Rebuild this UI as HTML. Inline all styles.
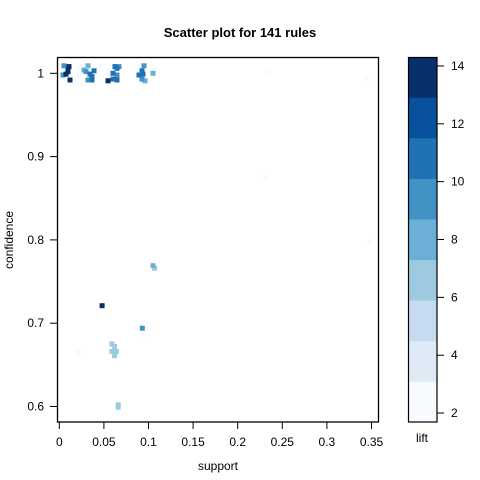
<!DOCTYPE html>
<html><head><meta charset="utf-8"><style>
html,body{margin:0;padding:0;background:#fff;}
svg{display:block;font-family:"Liberation Sans",Arial,sans-serif;}
</style></head><body>
<svg id="chart" width="480" height="480" xmlns="http://www.w3.org/2000/svg">
<text x="240" y="37" text-anchor="middle" font-size="13" font-weight="bold">Scatter plot for 141 rules</text>
<text x="218" y="470" text-anchor="middle" font-size="12">support</text>
<text x="13" y="240" text-anchor="middle" font-size="12" transform="rotate(-90 13 240)">confidence</text>
<g id="marks"></g>
<rect x="57.5" y="57.5" width="321" height="364.5" fill="none" stroke="#000" stroke-width="1.3"/>
<g id="xaxis"></g>
<g id="yaxis"></g>
<g id="legend"></g>
<text x="422" y="442" text-anchor="middle" font-size="12">lift</text>
</svg>
<script>
const xTicks=[0,0.05,0.1,0.15,0.2,0.25,0.3,0.35];
const xTickLabels=["0","0.05","0.1","0.15","0.2","0.25","0.3","0.35"];
const yTicks=[0.6,0.7,0.8,0.9,1];
const yTickLabels=["0.6","0.7","0.8","0.9","1"];
const legendTicks=[2,4,6,8,10,12,14];
const bandColors=["#f7fbff","#deebf7","#c6dbef","#9ecae1","#6baed6","#4292c6","#2171b5","#08519c","#08306b"];
const liftMin=1.69, liftMax=14.31;
const support=[0.0053,0.0109,0.0041,0.0098,0.0075,0.012,0.0098,0.0221,
0.0277,0.0322,0.0299,0.0344,0.0367,0.0322,0.0367,0.0389,0.0445,0.0221,
0.0624,0.0647,0.0602,0.0647,0.0602,0.0546,0.0647,0.0669,0.0591,
0.0950,0.0927,0.0893,0.0938,0.0927,0.0961,0.105,0.0893,0.0983,
0.233,0.232,0.348,0.344,
0.105,0.107,0.048,0.093,0.098,0.094,0.021,
0.059,0.062,0.062,0.059,0.064,0.062,0.066,0.066,0.065];
const confidence=[1.009,1.008,0.998,1.004,0.999,0.992,1.002,1.006,
1.004,1.009,1.002,0.999,0.996,0.992,0.992,1.003,1.009,0.998,
1.008,1.006,1.0,0.998,0.993,0.991,0.992,1.008,1.008,
1.009,1.003,0.998,0.999,0.993,0.991,1.0,1.008,0.990,
1.002,0.875,0.797,0.994,
0.769,0.766,0.721,0.694,0.694,0.686,0.665,
0.675,0.672,0.666,0.666,0.666,0.661,0.602,0.599,0.593];
const lift=[9,14,9,14,14,14,14,3,
8,8,10,11,11,10,11,11,2.5,3,
11,11,11,10,11,14,11,9,3,
9,11,11,11,10,8,8,3,3,
2.5,2.5,2,2.5,
8.5,7,14,9,2.5,2,2.5,
6.5,6.5,6.5,6.5,6.5,6.5,6.5,6.5,2.5];

const NS="http://www.w3.org/2000/svg";
function xs(v){return 59.3+v*892;}
function ys(v){return 73.3+(1-v)*833;}
function ly(v){return 422-(v-liftMin)/(liftMax-liftMin)*365;}
function color(l){let i=Math.floor((l-liftMin)/((liftMax-liftMin)/9));i=Math.max(0,Math.min(8,i));return bandColors[i];}
function mk(tag,attrs,parent){const e=document.createElementNS(NS,tag);for(const k in attrs)e.setAttribute(k,attrs[k]);parent.appendChild(e);return e;}

const marks=document.getElementById('marks');
const order=support.map((_,i)=>i).sort((a,b)=>lift[a]-lift[b]);
order.forEach(i=>{
  const r=mk('rect',{x:(xs(support[i])-2.5).toFixed(1),y:(ys(confidence[i])-2.5).toFixed(1),width:5,height:5,fill:color(lift[i])},marks);
  
  
});

const xa=document.getElementById('xaxis');
xTicks.forEach((t,i)=>{
  const x=xs(t);
  const l=mk('line',{x1:x,x2:x,y1:422,y2:429,stroke:'#000'},xa);
  
  
  const tx=mk('text',{x:x,y:446,'text-anchor':'middle','font-size':12},xa);
  tx.textContent=xTickLabels[i];
  
  
});
const ya=document.getElementById('yaxis');
yTicks.forEach((t,i)=>{
  const y=ys(t);
  const l=mk('line',{x1:50,x2:57.5,y1:y,y2:y,stroke:'#000'},ya);
  
  
  const tx=mk('text',{x:44,y:y+4,'text-anchor':'end','font-size':12},ya);
  tx.textContent=yTickLabels[i];
  
  
});

const lg=document.getElementById('legend');
const bw=(liftMax-liftMin)/9;
bandColors.forEach((c,i)=>{
  const y1=ly(liftMin+(i+1)*bw), y2=ly(liftMin+i*bw);
  const r=mk('rect',{x:408,y:y1,width:29,height:y2-y1+0.3,fill:c},lg);
  
  
});
const fr=mk('rect',{x:408.5,y:57.5,width:28.5,height:364.5,fill:'none',stroke:'#000','stroke-width':1.2},lg);


legendTicks.forEach(t=>{
  const y=ly(t);
  const l=mk('line',{x1:437,x2:444,y1:y,y2:y,stroke:'#000'},lg);
  
  
  const tx=mk('text',{x:451,y:y+4,'font-size':12},lg);
  tx.textContent=t;
  
  
});
</script>
</body></html>
